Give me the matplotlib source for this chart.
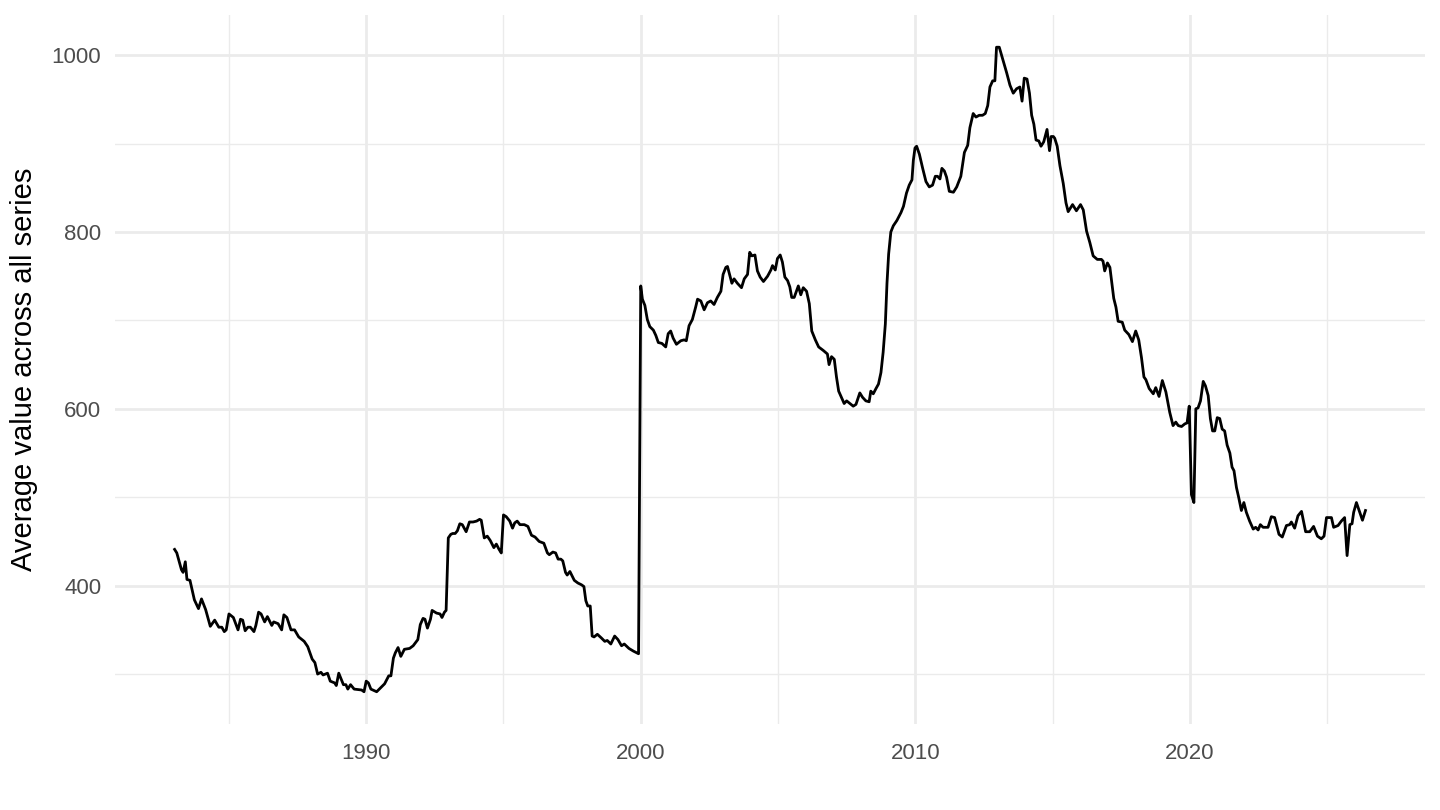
import numpy as np
import matplotlib
matplotlib.use("Agg")
import matplotlib.pyplot as plt
from matplotlib.ticker import MultipleLocator

# values (decimal year, average value)
years = [
    1983.02, 1983.10, 1983.27, 1983.33, 1983.41, 1983.47, 1983.58, 1983.74, 1983.89, 1984.00,
    1984.15, 1984.32, 1984.48, 1984.63, 1984.74, 1984.83, 1984.90, 1985.00, 1985.16, 1985.33,
    1985.42, 1985.50, 1985.59, 1985.69, 1985.78, 1985.91, 1985.98, 1986.08, 1986.17, 1986.30,
    1986.40, 1986.56, 1986.63, 1986.79, 1986.92, 1987.00, 1987.11, 1987.26, 1987.39, 1987.54,
    1987.74, 1987.87, 1988.03, 1988.13, 1988.23, 1988.35, 1988.43, 1988.59, 1988.69, 1988.85,
    1988.91, 1989.00, 1989.17, 1989.26, 1989.33, 1989.43, 1989.56, 1989.83, 1989.92, 1990.00,
    1990.08, 1990.17, 1990.38, 1990.54, 1990.67, 1990.82, 1990.90, 1990.99, 1991.06, 1991.16,
    1991.26, 1991.39, 1991.58, 1991.71, 1991.88, 1991.97, 1992.07, 1992.14, 1992.23, 1992.34,
    1992.40, 1992.56, 1992.69, 1992.76, 1992.85, 1992.91, 1992.99, 1993.08, 1993.15, 1993.24,
    1993.32, 1993.41, 1993.50, 1993.64, 1993.76, 1993.89, 1994.02, 1994.13, 1994.19, 1994.30,
    1994.41, 1994.52, 1994.65, 1994.74, 1994.84, 1994.92, 1995.00, 1995.10, 1995.23, 1995.33,
    1995.41, 1995.50, 1995.60, 1995.76, 1995.89, 1996.02, 1996.15, 1996.30, 1996.47, 1996.60,
    1996.67, 1996.80, 1996.90, 1996.99, 1997.09, 1997.16, 1997.26, 1997.32, 1997.42, 1997.58,
    1997.71, 1997.84, 1997.93, 1998.00, 1998.07, 1998.16, 1998.23, 1998.30, 1998.42, 1998.56,
    1998.69, 1998.78, 1998.91, 1999.05, 1999.17, 1999.30, 1999.40, 1999.57, 1999.73, 1999.92,
    2000.00, 2000.06, 2000.15, 2000.24, 2000.33, 2000.46, 2000.55, 2000.64, 2000.77, 2000.91,
    2001.00, 2001.09, 2001.18, 2001.30, 2001.46, 2001.58, 2001.66, 2001.76, 2001.88, 2002.00,
    2002.07, 2002.19, 2002.31, 2002.43, 2002.55, 2002.67, 2002.79, 2002.92, 2003.00, 2003.10,
    2003.16, 2003.32, 2003.40, 2003.52, 2003.67, 2003.77, 2003.89, 2003.97, 2004.05, 2004.16,
    2004.25, 2004.35, 2004.47, 2004.62, 2004.74, 2004.80, 2004.90, 2004.98, 2005.08, 2005.16,
    2005.25, 2005.35, 2005.43, 2005.50, 2005.59, 2005.74, 2005.83, 2005.92, 2006.04, 2006.14,
    2006.23, 2006.36, 2006.48, 2006.65, 2006.80, 2006.86, 2006.95, 2007.05, 2007.13, 2007.21,
    2007.31, 2007.41, 2007.50, 2007.62, 2007.74, 2007.84, 2007.98, 2008.08, 2008.20, 2008.32,
    2008.38, 2008.47, 2008.57, 2008.66, 2008.75, 2008.83, 2008.91, 2008.97, 2009.03, 2009.11,
    2009.20, 2009.33, 2009.48, 2009.57, 2009.68, 2009.78, 2009.88, 2009.93, 2009.99, 2010.05,
    2010.15, 2010.27, 2010.39, 2010.51, 2010.63, 2010.73, 2010.81, 2010.90, 2010.97, 2011.06,
    2011.14, 2011.24, 2011.39, 2011.51, 2011.66, 2011.79, 2011.91, 2011.99, 2012.11, 2012.21,
    2012.33, 2012.45, 2012.55, 2012.64, 2012.72, 2012.82, 2012.90, 2012.96, 2013.06, 2013.18,
    2013.33, 2013.45, 2013.57, 2013.69, 2013.81, 2013.89, 2013.97, 2014.07, 2014.16, 2014.24,
    2014.32, 2014.40, 2014.50, 2014.58, 2014.68, 2014.80, 2014.89, 2014.95, 2015.03, 2015.08,
    2015.17, 2015.27, 2015.39, 2015.49, 2015.57, 2015.73, 2015.87, 2016.02, 2016.12, 2016.24,
    2016.36, 2016.48, 2016.63, 2016.78, 2016.84, 2016.90, 2017.00, 2017.09, 2017.15, 2017.23,
    2017.31, 2017.39, 2017.54, 2017.63, 2017.78, 2017.91, 2018.03, 2018.14, 2018.24, 2018.33,
    2018.40, 2018.52, 2018.67, 2018.76, 2018.88, 2019.00, 2019.13, 2019.27, 2019.39, 2019.49,
    2019.58, 2019.70, 2019.82, 2019.90, 2019.98, 2020.06, 2020.15, 2020.22, 2020.30, 2020.39,
    2020.49, 2020.57, 2020.67, 2020.75, 2020.83, 2020.91, 2021.00, 2021.09, 2021.18, 2021.27,
    2021.36, 2021.46, 2021.54, 2021.61, 2021.70, 2021.78, 2021.88, 2021.97, 2022.06, 2022.18,
    2022.31, 2022.40, 2022.49, 2022.57, 2022.67, 2022.85, 2022.97, 2023.09, 2023.25, 2023.37,
    2023.52, 2023.64, 2023.70, 2023.82, 2023.94, 2024.07, 2024.22, 2024.37, 2024.51, 2024.65,
    2024.79, 2024.89, 2024.98, 2025.16, 2025.24, 2025.40, 2025.52, 2025.64, 2025.73, 2025.83,
    2025.91, 2025.97, 2026.07, 2026.17, 2026.29, 2026.40,
]
avg_value = [
    441, 437, 418, 415, 427, 407, 406, 384, 374, 385,
    373, 354, 361, 353, 353, 348, 350, 368, 364, 350,
    362, 361, 349, 353, 353, 348, 355, 370, 368, 359,
    365, 355, 359, 357, 350, 367, 364, 350, 350, 342,
    337, 331, 317, 313, 300, 302, 299, 301, 292, 290,
    287, 301, 288, 288, 283, 288, 283, 282, 280, 292,
    290, 283, 280, 285, 289, 298, 298, 318, 324, 330,
    320, 328, 329, 332, 339, 356, 363, 362, 352, 362,
    372, 369, 368, 364, 370, 372, 454, 458, 459, 459,
    462, 470, 469, 461, 472, 472, 473, 475, 474, 454,
    456, 451, 443, 447, 441, 437, 480, 478, 473, 465,
    471, 473, 469, 469, 467, 457, 455, 450, 448, 437,
    435, 438, 437, 430, 430, 428, 415, 412, 416, 406,
    403, 401, 399, 383, 377, 377, 343, 342, 345, 341,
    337, 338, 334, 343, 339, 332, 334, 329, 326, 323,
    739, 724, 717, 701, 693, 689, 683, 675, 674, 670,
    685, 688, 680, 673, 677, 678, 677, 694, 701, 715,
    724, 722, 712, 720, 722, 718, 726, 733, 752, 760,
    761, 742, 747, 742, 737, 747, 752, 777, 773, 774,
    756, 749, 744, 750, 757, 762, 757, 770, 774, 766,
    749, 745, 738, 726, 726, 739, 729, 737, 733, 719,
    688, 678, 670, 666, 662, 650, 659, 656, 636, 620,
    613, 606, 609, 606, 603, 605, 618, 613, 609, 608,
    620, 617, 623, 628, 641, 664, 696, 742, 775, 800,
    807, 813, 822, 829, 844, 853, 859, 881, 895, 897,
    888, 872, 857, 851, 853, 863, 863, 860, 872, 869,
    862, 846, 845, 851, 863, 890, 898, 918, 934, 930,
    932, 932, 934, 943, 964, 971, 971, 1009, 1009, 996,
    980, 966, 957, 962, 964, 948, 974, 973, 957, 932,
    922, 904, 903, 897, 902, 916, 892, 908, 908, 906,
    897, 875, 855, 833, 823, 831, 824, 831, 825, 801,
    788, 773, 769, 769, 767, 756, 765, 760, 745, 725,
    715, 699, 698, 689, 684, 676, 688, 678, 658, 636,
    633, 623, 617, 624, 614, 632, 619, 596, 581, 585,
    581, 580, 583, 584, 603, 503, 494, 600, 601, 609,
    631, 626, 615, 589, 575, 575, 590, 589, 577, 575,
    559, 550, 534, 530, 511, 500, 485, 494, 483, 473,
    464, 466, 463, 469, 466, 466, 478, 477, 458, 455,
    468, 469, 472, 465, 479, 484, 461, 461, 467, 456,
    453, 456, 477, 477, 466, 468, 473, 477, 434, 469,
    470, 483, 494, 485, 474, 485,
]

x_major = [1990, 2000, 2010, 2020]
y_major = [400, 600, 800, 1000]

plt.rcParams['font.family'] = ['Liberation Sans', 'DejaVu Sans']

fig = plt.figure(figsize=(14.4, 8.1), dpi=100)
ax = fig.add_axes([0.0799, 0.1062, 0.9097, 0.8753])

ax.plot(years, avg_value, color='black', linewidth=2.0, solid_joinstyle='round')
ax.margins(x=0.05, y=0.05)

ax.set_xticks(x_major)
ax.xaxis.set_minor_locator(MultipleLocator(5))
ax.set_yticks(y_major)
ax.yaxis.set_minor_locator(MultipleLocator(100))

ax.grid(which='major', color='#EBEBEB', linewidth=2.0)
ax.grid(which='minor', color='#EBEBEB', linewidth=1.0)
ax.set_axisbelow(True)
for s in ax.spines.values():
    s.set_visible(False)
ax.tick_params(which='both', length=0)
ax.tick_params(axis='x', labelsize=16, labelcolor='#4D4D4D', pad=14)
ax.tick_params(axis='y', labelsize=16, labelcolor='#4D4D4D', pad=10)

ax.set_ylabel('Average value across all series', fontsize=21, labelpad=10)

fig.savefig('out.png', dpi=100, facecolor='white')
